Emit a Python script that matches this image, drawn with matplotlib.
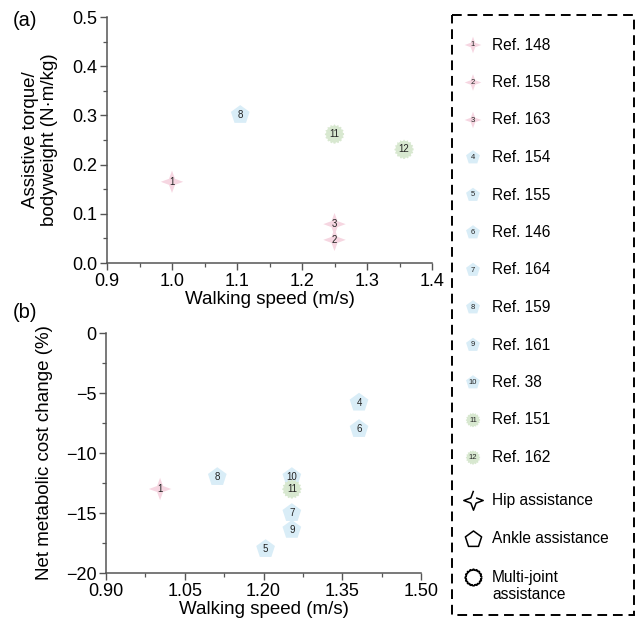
import numpy as np
import matplotlib
matplotlib.use('Agg')
import matplotlib.pyplot as plt
from matplotlib.patches import Rectangle

plt.rcParams['font.family'] = ['Liberation Sans', 'DejaVu Sans']

# study numbers, reference labels and assistance type
ref_ids = [1, 2, 3, 4, 5, 6, 7, 8, 9, 10, 11, 12]
ref_names = ['Ref. 148', 'Ref. 158', 'Ref. 163', 'Ref. 154', 'Ref. 155', 'Ref. 146',
             'Ref. 164', 'Ref. 159', 'Ref. 161', 'Ref. 38', 'Ref. 151', 'Ref. 162']
ref_types = ['hip', 'hip', 'hip', 'ankle', 'ankle', 'ankle',
             'ankle', 'ankle', 'ankle', 'ankle', 'multi', 'multi']

# (a) assistive torque vs walking speed
a_ids = [1, 2, 3, 8, 11, 12]
a_speed = [1.0, 1.25, 1.25, 1.105, 1.25, 1.357]
a_torque = [0.165, 0.047, 0.079, 0.301, 0.262, 0.231]

# (b) metabolic cost change vs walking speed
b_ids = [1, 4, 5, 6, 7, 8, 9, 10, 11]
b_speed = [1.003, 1.382, 1.204, 1.382, 1.254, 1.112, 1.254, 1.254, 1.254]
b_cost = [-13.0, -5.8, -18.0, -8.0, -15.0, -12.0, -16.4, -12.0, -13.0]

type_labels = ['Hip assistance', 'Ankle assistance', 'Multi-joint\nassistance']


def star4(inner=0.38):
    ang = np.arange(8) * np.pi / 4 + np.pi / 2
    r = np.where(np.arange(8) % 2 == 0, 1.0, inner)
    return np.column_stack([r * np.cos(ang), r * np.sin(ang)])


def gear(n=16, amp=0.06):
    t = np.linspace(0, 2 * np.pi, n * 8, endpoint=False)
    r = 1 + amp * np.sign(np.cos(n * t))
    return np.column_stack([r * np.cos(t), r * np.sin(t)])


markers = {'hip': star4(), 'ankle': 'p', 'multi': gear()}
colors = {'hip': '#f6d6e1', 'ankle': '#d9edf7', 'multi': '#d8e8d0'}
sizes = {'hip': 260, 'ankle': 200, 'multi': 190}


def draw_points(ax, ids, xs, ys):
    for i, x, y in zip(ids, xs, ys):
        kind = ref_types[i - 1]
        ax.scatter(x, y, marker=markers[kind], s=sizes[kind], c=colors[kind],
                   edgecolors='none', zorder=3, clip_on=False)
        ax.text(x, y, str(i), fontsize=7, ha='center', va='center',
                color='#222222', zorder=4)


def style_axes(ax):
    for s in ['top', 'right']:
        ax.spines[s].set_visible(False)
    for s in ['left', 'bottom']:
        ax.spines[s].set_color('#555555')
        ax.spines[s].set_linewidth(1.1)
    ax.tick_params(which='major', length=5, width=1.0, color='#555555',
                   labelsize=13, pad=2)
    ax.tick_params(which='minor', length=3, width=0.9, color='#555555')


W, H = 638, 626
fig = plt.figure(figsize=(W / 100, H / 100), dpi=100)

# panel (a)
ax1 = fig.add_axes([107 / W, 1 - 263 / H, 325 / W, 246 / H])
draw_points(ax1, a_ids, a_speed, a_torque)
ax1.set_xlim(0.9, 1.4)
ax1.set_ylim(0, 0.5)
ax1.set_xticks(np.arange(0.9, 1.41, 0.1))
ax1.set_xticks(np.arange(0.95, 1.4, 0.1), minor=True)
ax1.set_yticks(np.arange(0, 0.51, 0.1))
ax1.set_yticks(np.arange(0.05, 0.5, 0.1), minor=True)
ax1.xaxis.set_major_formatter(matplotlib.ticker.FormatStrFormatter('%.1f'))
ax1.yaxis.set_major_formatter(matplotlib.ticker.FormatStrFormatter('%.1f'))
style_axes(ax1)
ax1.set_xlabel('Walking speed (m/s)', fontsize=13.5, labelpad=1)
fig.text(40 / W, 1 - 140 / H, 'Assistive torque/\nbodyweight (N\u00b7m/kg)',
         rotation=90, ha='center', va='center', fontsize=13.5,
         multialignment='center', linespacing=1.1)
fig.text(13 / W, 1 - 20 / H, '(a)', fontsize=14.5, ha='left', va='center')

# panel (b)
ax2 = fig.add_axes([106 / W, 1 - 573 / H, 315 / W, 240 / H])
draw_points(ax2, b_ids, b_speed, b_cost)
ax2.set_xlim(0.9, 1.5)
ax2.set_ylim(-20, 0)
ax2.set_xticks(np.arange(0.9, 1.51, 0.15))
ax2.set_xticks(np.arange(0.975, 1.5, 0.15), minor=True)
ax2.set_yticks(np.arange(-20, 0.1, 5))
ax2.set_yticks(np.arange(-17.5, 0, 5), minor=True)
ax2.xaxis.set_major_formatter(matplotlib.ticker.FormatStrFormatter('%.2f'))
style_axes(ax2)
ax2.set_xlabel('Walking speed (m/s)', fontsize=13.5, labelpad=1)
fig.text(45 / W, 1 - 453 / H, 'Net metabolic cost change (%)',
         rotation=90, ha='center', va='center', fontsize=13.5)
fig.text(13 / W, 1 - 312 / H, '(b)', fontsize=14.5, ha='left', va='center')

# legend box on the right
lax = fig.add_axes([0, 0, 1, 1])
lax.set_xlim(0, W)
lax.set_ylim(H, 0)
lax.axis('off')
lax.add_patch(Rectangle((452, 15), 182, 600, fill=False, edgecolor='black',
                        linewidth=1.4, linestyle=(0, (5, 3))))
y0, dy = 45, 37.5
for k, (i, name) in enumerate(zip(ref_ids, ref_names)):
    kind = ref_types[i - 1]
    y = y0 + k * dy
    lax.scatter(473, y, marker=markers[kind], s=sizes[kind] * 0.55,
                c=colors[kind], edgecolors='none')
    lax.text(473, y, str(i), fontsize=5.5, ha='center', va='center', color='#222222')
    lax.text(492, y, name, fontsize=11.2, ha='left', va='center')
for k, (kind, lab) in enumerate(zip(['hip', 'ankle', 'multi'], type_labels)):
    y = 500 + k * 38.5
    lax.scatter(473, y, marker=markers[kind], s=sizes[kind] * 0.75,
                facecolors='white', edgecolors='black', linewidths=1.1)
    ty = y + 9 if '\n' in lab else y
    lax.text(492, ty, lab, fontsize=11.2, ha='left', va='center', linespacing=1.15)

fig.savefig('out.png', dpi=100)
